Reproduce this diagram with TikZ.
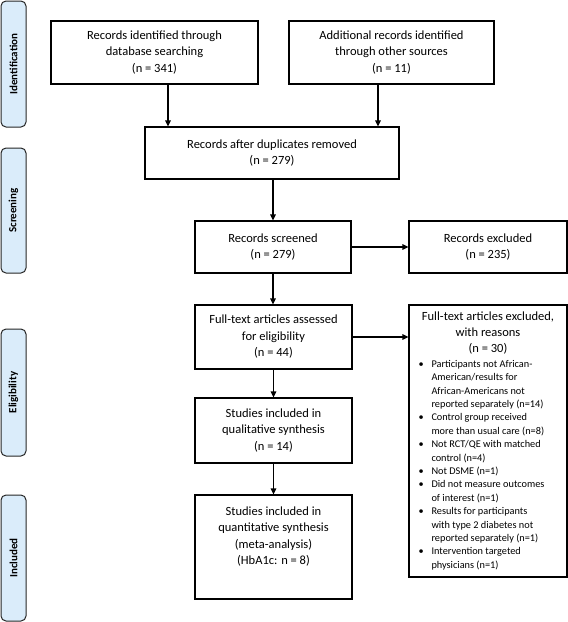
\documentclass[tikz,border=0pt]{standalone}
\usepackage{fontspec}
\setmainfont{Carlito}
\usetikzlibrary{arrows.meta}
\newcommand{\bulitem}[1]{\par\noindent\hangindent=21pt\hangafter=1\makebox[21pt][l]{\hspace{8pt}\textbullet}#1}
\begin{document}
\begin{tikzpicture}[x=1pt,y=1pt,
  box/.style={draw=black, line width=1.1pt, align=center, inner sep=2pt,
    font=\fontsize{12.5}{16.5}\selectfont},
  tab/.style={draw=black!85, line width=1pt, rounded corners=5pt, fill=tabblue,
    rotate=90, minimum height=25pt, inner sep=0pt,
    font=\fontsize{11}{13}\selectfont\bfseries},
  arr/.style={line width=1.1pt, -{Triangle[length=6pt,width=5.5pt]}}
]
\definecolor{tabblue}{RGB}{218,236,250}
\useasboundingbox (0,0) rectangle (568,-622);

% phase tabs
\node[tab, minimum width=126pt] (t1) at (13.5,-64) {Identification};
\node[tab, minimum width=125pt] (t2) at (13.5,-210.5) {Screening};
\node[tab, minimum width=127pt] (t3) at (13.5,-392.5) {Eligibility};
\node[tab, minimum width=126pt] (t4) at (13.5,-558) {Included};

% boxes
\node[box, minimum width=207pt, minimum height=63pt] (A) at (154.5,-52.5)
  {Records identified through\\ database searching\\ (n = 341)};
\node[box, minimum width=205pt, minimum height=63pt] (B) at (391.5,-52.5)
  {Additional records identified\\ through other sources\\ (n = 11)};
\node[box, minimum width=254pt, minimum height=52pt] (C) at (272,-153)
  {Records after duplicates removed\\ (n = 279)};
\node[box, minimum width=156pt, minimum height=52pt] (D) at (273,-247)
  {Records screened\\ (n = 279)};
\node[box, minimum width=158pt, minimum height=52pt] (E) at (488,-247)
  {Records excluded\\ (n = 235)};
\node[box, minimum width=157pt, minimum height=64pt] (F) at (273.5,-337)
  {Full-text articles assessed\\ for eligibility\\ (n = 44)};
\node[box, minimum width=157pt, minimum height=65pt] (H) at (273.5,-430.5)
  {Studies included in\\ qualitative synthesis\\ (n = 14)};
\node[box, minimum width=157pt, minimum height=104pt] (I) at (273.5,-547)
  {Studies included in\\ quantitative synthesis\\ (meta-analysis)\\ (HbA1c: n = 8)\\[6pt]\mbox{}};
\node[box, minimum width=158pt, minimum height=272pt, inner sep=1pt] (G) at (488,-441)
  {\begin{minipage}{155pt}
   \parskip=0pt
   {\centering\fontsize{12.5}{16}\selectfont Full-text articles excluded,\\ with reasons\\ (n = 30)\par}
   \vspace{1pt}
   \fontsize{10.3}{13.4}\selectfont\raggedright
   \bulitem{\mbox{Participants not African-}\newline \mbox{American/results for}\newline \mbox{African-Americans not}\newline \mbox{reported separately (n=14)}}
   \bulitem{\mbox{Control group received}\newline \mbox{more than usual care (n=8)}}
   \bulitem{\mbox{Not RCT/QE with matched}\newline \mbox{control (n=4)}}
   \bulitem{\mbox{Not DSME (n=1)}}
   \bulitem{\mbox{Did not measure outcomes}\newline \mbox{of interest (n=1)}}
   \bulitem{\mbox{Results for participants}\newline \mbox{with type 2 diabetes not}\newline \mbox{reported separately (n=1)}}
   \bulitem{\mbox{Intervention targeted}\newline \mbox{physicians (n=1)}}\par
   \end{minipage}};

% connectors
\coordinate (xa) at (168,0);
\coordinate (xb) at (378,0);
\draw[arr] (A.south -| xa) -- (C.north -| xa);
\draw[arr] (B.south -| xb) -- (C.north -| xb);
\draw[arr] (C.south -| D.north) -- (D.north);
\draw[arr] (D) -- (E);
\draw[arr] (D.south) -- (F.north -| D.south);
\draw[arr] (F.east) -- (G.west |- F.east);
\draw[arr] (F.south) -- (H.north);
\draw[arr] (H.south) -- (I.north);
\end{tikzpicture}
\end{document}
